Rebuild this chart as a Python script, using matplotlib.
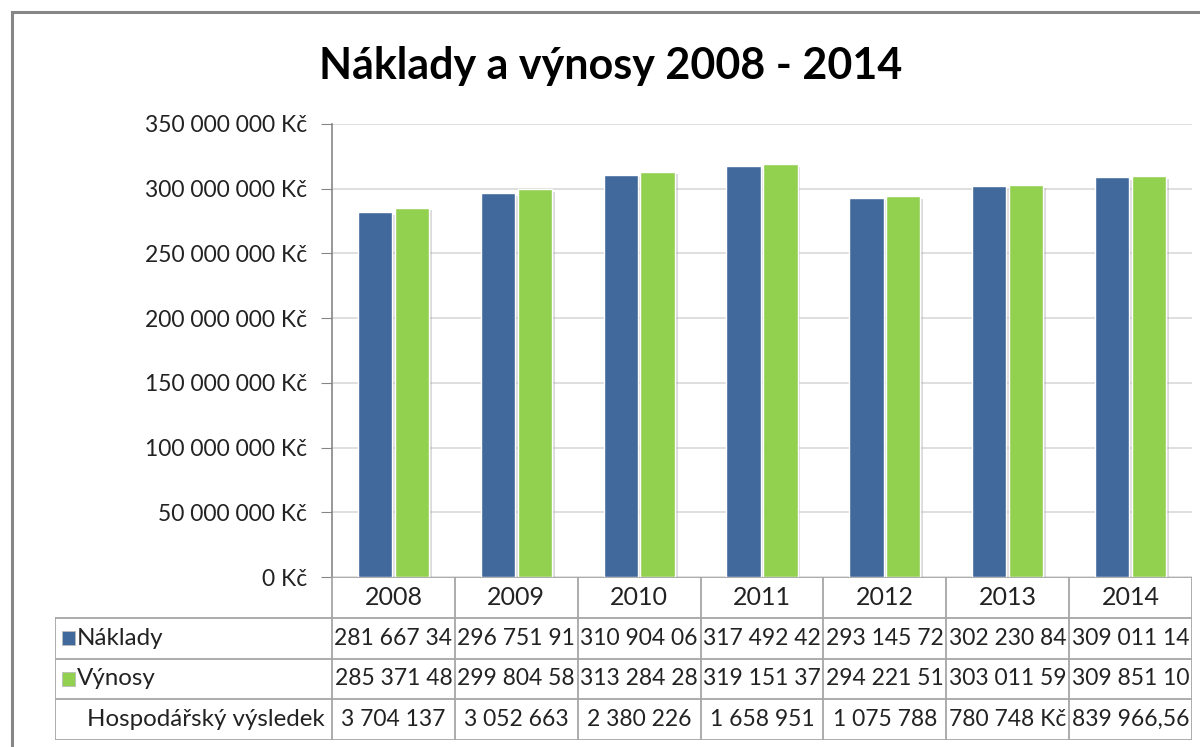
import matplotlib
matplotlib.use("Agg")
import matplotlib.pyplot as plt
import matplotlib.patheffects as pe
from matplotlib.patches import Rectangle
from matplotlib.ticker import FuncFormatter
import numpy as np

plt.rcParams['font.family'] = ['Lato', 'DejaVu Sans']

years = ["2008", "2009", "2010", "2011", "2012", "2013", "2014"]
naklady = [281667344, 296751917, 310904060, 317492422, 293145722, 302230842, 309011140]
vynosy = [285371481, 299804580, 313284286, 319151373, 294221510, 303011590, 309851106]
naklady_labels = ["281 667 34", "296 751 91", "310 904 06", "317 492 42", "293 145 72", "302 230 84", "309 011 14"]
vynosy_labels = ["285 371 48", "299 804 58", "313 284 28", "319 151 37", "294 221 51", "303 011 59", "309 851 10"]
hv_labels = ["3 704 137", "3 052 663", "2 380 226", "1 658 951", "1 075 788", "780 748 Kč", "839 966,56"]
series_names = ["Náklady", "Výnosy", "Hospodářský výsledek"]
title = "Náklady a výnosy 2008 - 2014"

blue = "#41699C"
green = "#92D050"
gray_line = "#A6A6A6"
W, H = 1200, 747
fig = plt.figure(figsize=(12, 7.47), dpi=100)

def fx(px):
    return px / W

def fy(py):
    return 1 - py / H

# outer frame
fig.patches.append(Rectangle((fx(12), fy(760)), fx(1250 - 12), fy(12) - fy(760),
                             transform=fig.transFigure, fill=False,
                             edgecolor="#868686", linewidth=2.2))

ax_l, ax_r, ax_t, ax_b = 332, 1192, 124, 577
ax = fig.add_axes([fx(ax_l), fy(ax_b), fx(ax_r - ax_l), fy(ax_t) - fy(ax_b)])
n = len(years)
x = np.arange(n)
bw = 0.28
shadow = [pe.SimplePatchShadow(offset=(2, -2), shadow_rgbFace="#999999", alpha=0.35), pe.Normal()]
b1 = ax.bar(x - bw / 2 - 0.01, naklady, bw, color=blue, edgecolor="white", linewidth=1.0, zorder=3)
b2 = ax.bar(x + bw / 2 + 0.01, vynosy, bw, color=green, edgecolor="white", linewidth=1.0, zorder=3)
for p in list(b1) + list(b2):
    p.set_path_effects(shadow)
ax.set_xlim(-0.5, n - 0.5)
ax.set_ylim(0, 350_000_000)
ax.set_yticks(np.arange(0, 350_000_001, 50_000_000))
ax.yaxis.set_major_formatter(FuncFormatter(lambda v, p: f"{int(v):,} Kč".replace(",", " ")))
ax.tick_params(axis="y", length=8, color="#868686", labelsize=16.5, pad=10, labelcolor="#222222")
ax.tick_params(axis="x", length=0, labelbottom=False)
ax.grid(axis="y", color="#D9D9D9", linewidth=1.2, zorder=0)
for s in ["top", "right", "bottom"]:
    ax.spines[s].set_visible(False)
ax.spines["left"].set_color("#868686")
ax.spines["left"].set_linewidth(1.2)
ax.set_axisbelow(True)

# title
fig.text(fx(611), fy(66), title, ha="center", va="center", fontsize=31, fontweight="bold", color="black")

# data table
tb_l, tb_b = 55, 740
cw = (ax_r - ax_l) / n
tax = fig.add_axes([fx(tb_l), fy(tb_b), fx(ax_r - tb_l), fy(ax_b) - fy(tb_b)])
left_units = -0.5 - (ax_l - tb_l) / cw
tax.set_xlim(left_units, n - 0.5)
tax.set_ylim(4, 0)
tax.axis("off")
lc = dict(color=gray_line, linewidth=1.3)
tax.plot([-0.5, n - 0.5], [0, 0], **lc)
for r in [1, 2, 3, 4]:
    tax.plot([left_units, n - 0.5], [r, r], **lc)
for c in range(n + 1):
    tax.plot([c - 0.5, c - 0.5], [0, 4], **lc)
tax.plot([left_units, left_units], [1, 4], **lc)

fs = 16.5
fs_lab = 17.4
for i, yv in enumerate(years):
    tax.text(i, 0.5, yv, ha="center", va="center", fontsize=18, color="#222222")
rows = [naklady_labels, vynosy_labels, hv_labels]
for r, labels in enumerate(rows):
    for i, t in enumerate(labels):
        tax.text(i, r + 1.5, t, ha="center", va="center", fontsize=fs, color="#222222")

key_w = 13 / cw
key_x0 = left_units + (62 - tb_l) / cw
for r, col in enumerate([blue, green]):
    tax.add_patch(Rectangle((key_x0, r + 1.5 - 0.17), key_w, 0.34, facecolor=col, edgecolor="#BBBBBB", linewidth=0.6))
    tax.text(left_units + (77 - tb_l) / cw, r + 1.5, series_names[r], ha="left", va="center", fontsize=fs_lab, color="#222222")
tax.text(left_units + (87 - tb_l) / cw, 3.5, series_names[2], ha="left", va="center", fontsize=fs_lab, color="#222222")

fig.savefig("out.png", dpi=100)
